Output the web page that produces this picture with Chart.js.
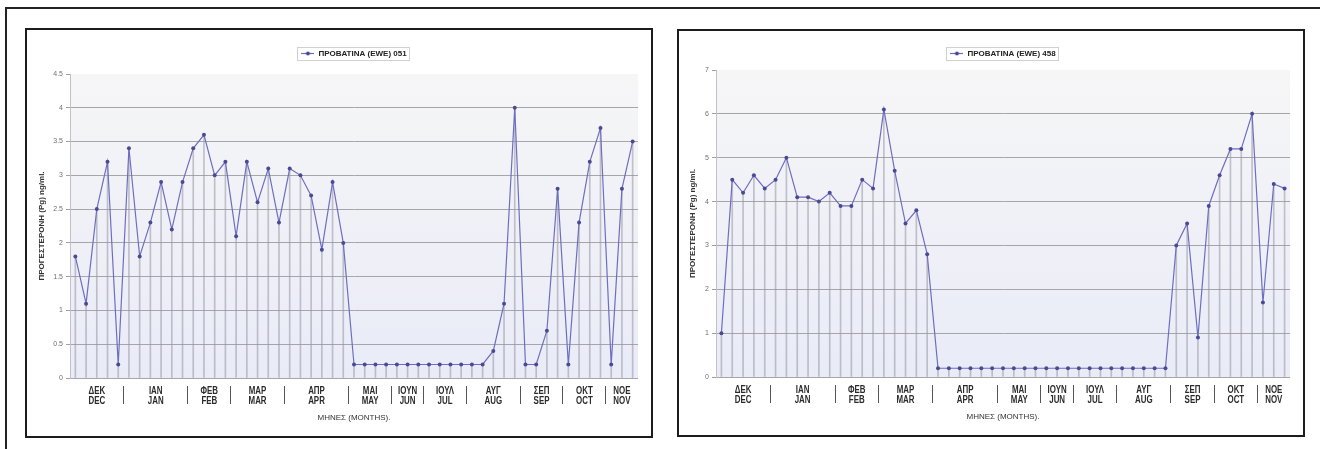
<!DOCTYPE html>
<html>
<head>
<meta charset="utf-8">
<script src="https://cdn.jsdelivr.net/npm/chart.js@4"></script>
<style>
  html, body { margin: 0; padding: 0; background: #fff; width: 1320px; height: 449px; overflow: hidden; }
  body { position: relative; }
  .frame { position: absolute; left: 5px; top: 7px; width: 1330px; height: 460px;
           border-top: 2px solid #222; border-left: 2px solid #222; }
  .box { position: absolute; box-sizing: border-box; border: 2px solid #1c1c1c; background: #fff; }
  .box canvas { display: block; }
</style>
</head>
<body>
<div class="frame"></div>
<div class="box" style="left:25px; top:28px; width:628px; height:410px;">
  <canvas id="ewe051" width="624" height="406"></canvas>
</div>
<div class="box" style="left:677px; top:29px; width:628px; height:408px;">
  <canvas id="ewe458" width="624" height="404"></canvas>
</div>
<script>
// Month names (Greek / English) and how many samples were taken in each month
const monthsGr = ['ΔΕΚ', 'ΙΑΝ', 'ΦΕΒ', 'ΜΑΡ', 'ΑΠΡ', 'ΜΑΙ', 'ΙΟΥΝ', 'ΙΟΥΛ', 'ΑΥΓ', 'ΣΕΠ', 'ΟΚΤ', 'ΝΟΕ'];
const monthsEn = ['DEC', 'JAN', 'FEB', 'MAR', 'APR', 'MAY', 'JUN', 'JUL', 'AUG', 'SEP', 'OCT', 'NOV'];
const samplesPerMonth = [5, 6, 4, 5, 6, 4, 3, 4, 5, 4, 4, 3];

// Progesterone (ng/ml), one value per sample, in sampling order
const ewe051 = [
  1.8, 1.1, 2.5, 3.2, 0.2,
  3.4, 1.8, 2.3, 2.9, 2.2, 2.9,
  3.4, 3.6, 3.0, 3.2,
  2.1, 3.2, 2.6, 3.1, 2.3,
  3.1, 3.0, 2.7, 1.9, 2.9, 2.0,
  0.2, 0.2, 0.2, 0.2,
  0.2, 0.2, 0.2,
  0.2, 0.2, 0.2, 0.2,
  0.2, 0.2, 0.4, 1.1, 4.0,
  0.2, 0.2, 0.7, 2.8,
  0.2, 2.3, 3.2, 3.7,
  0.2, 2.8, 3.5
];
const ewe458 = [
  1.0, 4.5, 4.2, 4.6, 4.3,
  4.5, 5.0, 4.1, 4.1, 4.0, 4.2,
  3.9, 3.9, 4.5, 4.3,
  6.1, 4.7, 3.5, 3.8, 2.8,
  0.2, 0.2, 0.2, 0.2, 0.2, 0.2,
  0.2, 0.2, 0.2, 0.2,
  0.2, 0.2, 0.2,
  0.2, 0.2, 0.2, 0.2,
  0.2, 0.2, 0.2, 0.2, 0.2,
  3.0, 3.5, 0.9, 3.9,
  4.6, 5.2, 5.2, 6.0,
  1.7, 4.4, 4.3
];

// Value axis tick labels
const yTicks051 = [0, 0.5, 1, 1.5, 2, 2.5, 3, 3.5, 4, 4.5];
const yTicks458 = [0, 1, 2, 3, 4, 5, 6, 7];

const LINE_COLOR = '#6e6ec0';
const DOT_COLOR = '#4a4a94';
const BOLD_SANS = "'Liberation Sans', Arial, sans-serif";
Chart.defaults.font.family = BOLD_SANS;

// Month axis ticks: a label at the middle of each month's samples, a separator between months
function buildMonthTicks(counts) {
  const ticks = [];
  let start = 0;
  counts.forEach((n, m) => {
    const end = start + n - 1;
    ticks.push({ value: (start + end) / 2, text: [monthsGr[m], monthsEn[m]], sep: false });
    if (m < counts.length - 1) ticks.push({ value: end + 0.5, text: '', sep: true });
    start = end + 1;
  });
  return ticks;
}
const monthTicks = buildMonthTicks(samplesPerMonth);

// Draw a scale's tick labels squeezed horizontally (narrow lettering)
function condenseLabels(scale, factor) {
  if (scale.$condensed) return;
  scale.$condensed = true;
  scale.drawLabels = function (chartArea) {
    const ctx = this.ctx;
    for (const item of this.getLabelItems(chartArea)) {
      const o = item.options;
      ctx.save();
      ctx.translate(o.translation[0], o.translation[1]);
      ctx.scale(factor, 1);
      Chart.helpers.renderText(ctx, item.label, 0, item.textOffset, item.font,
        Object.assign({}, o, { translation: null }));
      ctx.restore();
    }
  };
}

// Legend glyph: line with a marker in the middle
function legendGlyph() {
  const c = document.createElement('canvas');
  c.width = 13; c.height = 7;
  const g = c.getContext('2d');
  g.strokeStyle = LINE_COLOR; g.lineWidth = 1.2;
  g.beginPath(); g.moveTo(0, 3.5); g.lineTo(13, 3.5); g.stroke();
  g.fillStyle = DOT_COLOR;
  g.beginPath(); g.arc(6.5, 3.5, 2, 0, Math.PI * 2); g.fill();
  return c;
}

// Plot area fill
const plotBackground = {
  id: 'plotBackground',
  beforeDraw(chart) {
    const { ctx, chartArea: a } = chart;
    const g = ctx.createLinearGradient(0, a.top, 0, a.bottom);
    g.addColorStop(0, '#f6f6f7');
    g.addColorStop(1, '#e9ebf7');
    ctx.save();
    ctx.fillStyle = g;
    ctx.fillRect(a.left, a.top, a.width, a.height);
    ctx.restore();
  }
};

// Fixed legend band height and a thin frame around the legend entry
const legendFrame = {
  id: 'legendFrame',
  afterInit(chart, args, opts) {
    const lg = chart.legend;
    const fit = lg.fit;
    lg.fit = function () { fit.call(this); this.height = opts.height; };
  },
  afterDraw(chart) {
    const h = chart.legend && chart.legend.legendHitBoxes && chart.legend.legendHitBoxes[0];
    if (!h) return;
    const ctx = chart.ctx;
    ctx.save();
    ctx.strokeStyle = '#cfcfd4';
    ctx.lineWidth = 1;
    ctx.strokeRect(Math.round(h.left - 4) + 0.5, Math.round(h.top - 3) + 0.5, Math.round(h.width + 7), Math.round(h.height + 5));
    ctx.restore();
  }
};

function makeChart(id, label, series, yTicks, yWidth, padTop, legendHeight, yTitlePad) {
  const points = series.map((v, i) => ({ x: i, y: v }));
  const yMax = yTicks[yTicks.length - 1];
  const last = series.length - 1;
  return new Chart(document.getElementById(id), {
    type: 'line',
    data: {
      datasets: [
        {
          type: 'line', label: label, data: points,
          borderColor: LINE_COLOR, borderWidth: 1.2, tension: 0,
          pointRadius: 2, pointBackgroundColor: DOT_COLOR, pointBorderColor: DOT_COLOR, pointBorderWidth: 0,
          order: 1, xAxisID: 'x', yAxisID: 'y'
        },
        {
          // drop lines from each sample down to the axis
          type: 'bar', label: 'drop', data: points, grouped: false,
          backgroundColor: 'rgba(150,150,165,0.55)', barThickness: 1,
          order: 2, xAxisID: 'x', yAxisID: 'y'
        }
      ]
    },
    options: {
      responsive: false,
      animation: false,
      events: [],
      layout: { padding: { top: padTop, left: 0, right: 13, bottom: 8 } },
      plugins: {
        tooltip: { enabled: false },
        legend: {
          display: true, position: 'top', fullSize: false,
          labels: {
            filter: item => item.datasetIndex === 0,
            usePointStyle: true, pointStyle: legendGlyph(), pointStyleWidth: 13,
            padding: 4, color: '#222',
            font: { size: 8, weight: 'bold' }
          }
        },
        legendFrame: { height: legendHeight }
      },
      scales: {
        x: { type: 'linear', min: -0.5, max: last + 0.5, offset: false, display: false },
        m: {
          type: 'linear', position: 'bottom', min: -0.5, max: last + 0.5, offset: false,
          afterBuildTicks: s => { s.ticks = monthTicks.map(t => ({ value: t.value })); },
          afterFit: s => { s.height = 50; },
          afterUpdate: s => condenseLabels(s, 0.72),
          ticks: {
            autoSkip: false, maxRotation: 0, minRotation: 0, padding: -18,
            color: '#2b2b2b',
            font: { family: BOLD_SANS, weight: 'bold', size: 11, lineHeight: 10 / 11 },
            callback: (v, i) => monthTicks[i] ? monthTicks[i].text : ''
          },
          grid: {
            drawOnChartArea: false, drawTicks: true, tickLength: 26, tickWidth: 1,
            tickBorderDash: [0, 8, 18, 100],
            tickColor: ctx => (monthTicks[ctx.index] && monthTicks[ctx.index].sep) ? '#555' : 'rgba(0,0,0,0)'
          },
          border: { display: false },
          title: {
            display: true, text: 'ΜΗΝΕΣ (MONTHS).', color: '#333',
            font: { size: 8 }, padding: { top: 0, bottom: 5 }
          }
        },
        y: {
          min: 0, max: yMax,
          afterBuildTicks: s => { s.ticks = yTicks.map(v => ({ value: v })); },
          afterFit: s => { s.width = yWidth; },
          ticks: { color: '#707070', font: { size: 7 }, padding: 3, callback: v => String(v) },
          grid: {
            color: ctx => (ctx.tick && ctx.tick.value === yMax) ? 'rgba(0,0,0,0)' : '#a6a6a8',
            lineWidth: 1, tickLength: 4, tickColor: '#a0a0a0'
          },
          border: { color: '#c2c2c6' },
          title: {
            display: true, text: 'ΠΡΟΓΕΣΤΕΡΟΝΗ (Pg) ng/ml.', color: '#333',
            font: { size: 8, weight: 'bold' }, padding: { top: yTitlePad, bottom: 0 }
          }
        }
      }
    },
    plugins: [plotBackground, legendFrame]
  });
}

makeChart('ewe051', 'ΠΡΟΒΑΤΙΝΑ (EWE) 051', ewe051, yTicks051, 43, 15.5, 28.5, 10);
makeChart('ewe458', 'ΠΡΟΒΑΤΙΝΑ (EWE) 458', ewe458, yTicks458, 37, 14.5, 24.5, 9);
</script>
</body>
</html>
